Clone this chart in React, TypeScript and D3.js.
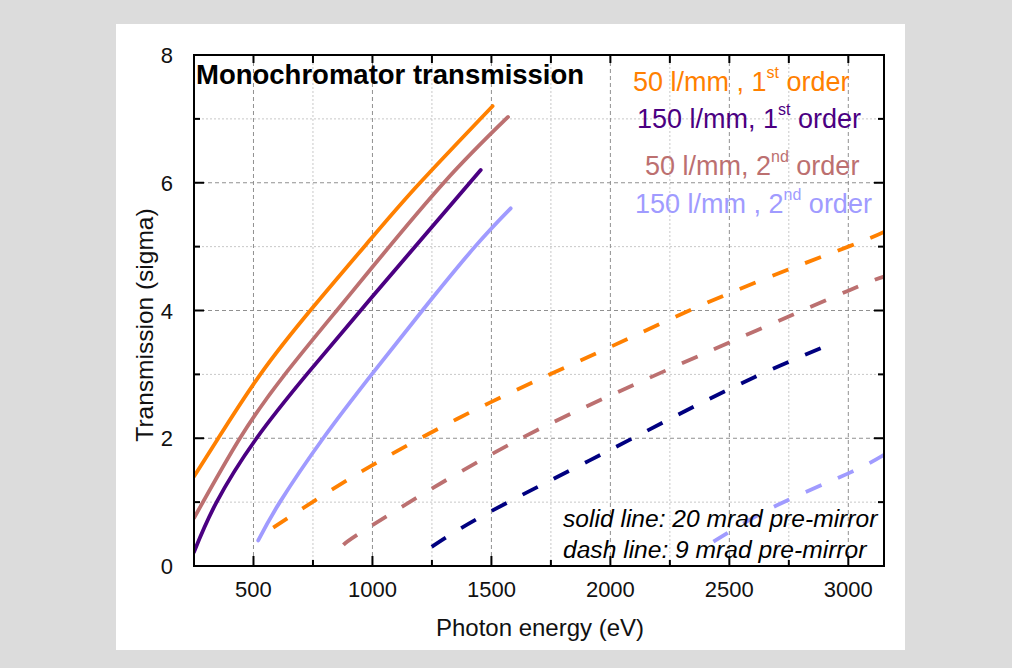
import React from "react";
import * as d3 from "d3";

// Photon energy (eV) vs transmission, 20 mrad pre-mirror (solid)
const solid50First: [number, number][] = [
  [250, 1.4], [352, 2.0], [529, 3.0], [750, 4.05], [1000, 5.15], [1200, 6.0], [1505, 7.2],
];
const solid150First: [number, number][] = [
  [250, 0.22], [345, 1.0], [513, 2.0], [724, 3.0], [1000, 4.22], [1455, 6.2],
];
const solid50Second: [number, number][] = [
  [250, 0.75], [443, 2.0], [632, 3.0], [850, 4.0], [1000, 4.68], [1300, 6.0], [1570, 7.03],
];
const solid150Second: [number, number][] = [
  [520, 0.4], [611, 1.0], [793, 2.0], [997, 3.0], [1214, 4.02], [1431, 5.0], [1581, 5.6],
];

// 9 mrad pre-mirror (dashed)
const dash50First: [number, number][] = [
  [583, 0.6], [1000, 1.58], [1500, 2.57], [2000, 3.43], [2500, 4.27], [3000, 5.0], [3150, 5.23],
];
const dash150First: [number, number][] = [
  [1249, 0.3], [1500, 0.86], [2000, 1.82], [2500, 2.77], [2940, 3.5],
];
const dash50Second: [number, number][] = [
  [878, 0.33], [1000, 0.64], [1500, 1.75], [2000, 2.67], [2500, 3.5], [3000, 4.31], [3150, 4.53],
];
const dash150Second: [number, number][] = [
  [2433, 0.38], [2700, 0.95], [3000, 1.45], [3150, 1.74],
];

const xTicks = [500, 1000, 1500, 2000, 2500, 3000];
const xMinor = [750, 1250, 1750, 2250, 2750];
const yTicks = [0, 2, 4, 6, 8];
const yMinor = [1, 3, 5, 7];

const legendItems = [
  { grating: "50 l/mm , 1", sup: "st", color: "#ff8000" },
  { grating: "150 l/mm, 1", sup: "st", color: "#4b0082" },
  { grating: "50 l/mm, 2", sup: "nd", color: "#bc7070" },
  { grating: "150 l/mm , 2", sup: "nd", color: "#a09bff" },
];
const legendX = [633, 637, 645, 635];
const legendY = [91, 128, 175, 213];

const notes = ["solid line: 20 mrad pre-mirror", "dash line: 9 mrad pre-mirror"];

const W = 1012;
const H = 668;
const plot = { left: 194, right: 884, top: 55, bottom: 566 };
const FONT = "'Liberation Sans', Arial, Helvetica, sans-serif";

export default function App() {
  const x = d3.scaleLinear().domain([250, 3150]).range([plot.left, plot.right]);
  const y = d3.scaleLinear().domain([0, 8]).range([plot.bottom, plot.top]);
  const line = d3
    .line<[number, number]>()
    .x((d) => x(d[0]))
    .y((d) => y(d[1]))
    .curve(d3.curveNatural);

  const series = [
    { data: solid50First, color: "#ff8000", dashed: false },
    { data: solid50Second, color: "#bc7070", dashed: false },
    { data: solid150First, color: "#4b0082", dashed: false },
    { data: solid150Second, color: "#a09bff", dashed: false },
    { data: dash50First, color: "#ff8000", dashed: true },
    { data: dash50Second, color: "#bc7070", dashed: true },
    { data: dash150First, color: "#000080", dashed: true },
    { data: dash150Second, color: "#a09bff", dashed: true },
  ];

  return (
    <svg
      width={W}
      height={H}
      style={{ position: "absolute", left: 0, top: 0 }}
      fontFamily={FONT}
    >
      <rect x={0} y={0} width={W} height={H} fill="#dcdcdc" />
      <rect x={116} y={24} width={789} height={626} fill="#ffffff" />

      <defs>
        <clipPath id="plot-clip">
          <rect
            x={plot.left}
            y={plot.top}
            width={plot.right - plot.left}
            height={plot.bottom - plot.top}
          />
        </clipPath>
      </defs>

      {/* grid */}
      {xMinor.map((v) => (
        <line key={"gxm" + v} x1={x(v)} x2={x(v)} y1={plot.top} y2={plot.bottom}
          stroke="#c8c8c8" strokeWidth={1} strokeDasharray="2,2" />
      ))}
      {yMinor.map((v) => (
        <line key={"gym" + v} x1={plot.left} x2={plot.right} y1={y(v)} y2={y(v)}
          stroke="#c8c8c8" strokeWidth={1} strokeDasharray="2,2" />
      ))}
      {xTicks.map((v) => (
        <line key={"gx" + v} x1={x(v)} x2={x(v)} y1={plot.top} y2={plot.bottom}
          stroke="#909090" strokeWidth={1} strokeDasharray="4,3" />
      ))}
      {yTicks.slice(1, -1).map((v) => (
        <line key={"gy" + v} x1={plot.left} x2={plot.right} y1={y(v)} y2={y(v)}
          stroke="#909090" strokeWidth={1} strokeDasharray="4,3" />
      ))}

      {/* curves */}
      <g clipPath="url(#plot-clip)">
        {series.map((s, i) => (
          <path
            key={i}
            d={line(s.data) ?? ""}
            fill="none"
            stroke={s.color}
            strokeWidth={3.8}
            strokeDasharray={s.dashed ? "17,18" : undefined}
            strokeLinecap={s.dashed ? "butt" : "round"}
          />
        ))}
      </g>

      {/* frame */}
      <rect
        x={plot.left}
        y={plot.top}
        width={plot.right - plot.left}
        height={plot.bottom - plot.top}
        fill="none"
        stroke="#000"
        strokeWidth={2}
      />

      {/* ticks, pointing inward */}
      {xTicks.map((v) => (
        <g key={"tx" + v}>
          <line x1={x(v)} x2={x(v)} y1={plot.bottom} y2={plot.bottom - 10} stroke="#000" strokeWidth={2} />
          <line x1={x(v)} x2={x(v)} y1={plot.top} y2={plot.top + 8} stroke="#000" strokeWidth={2} />
        </g>
      ))}
      {xMinor.map((v) => (
        <g key={"txm" + v}>
          <line x1={x(v)} x2={x(v)} y1={plot.bottom} y2={plot.bottom - 6} stroke="#000" strokeWidth={2} />
          <line x1={x(v)} x2={x(v)} y1={plot.top} y2={plot.top + 8} stroke="#000" strokeWidth={2} />
        </g>
      ))}
      {yTicks.map((v) => (
        <g key={"ty" + v}>
          <line x1={plot.left} x2={plot.left + 10} y1={y(v)} y2={y(v)} stroke="#000" strokeWidth={2} />
          <line x1={plot.right} x2={plot.right - 10} y1={y(v)} y2={y(v)} stroke="#000" strokeWidth={2} />
        </g>
      ))}
      {yMinor.map((v) => (
        <g key={"tym" + v}>
          <line x1={plot.left} x2={plot.left + 6} y1={y(v)} y2={y(v)} stroke="#000" strokeWidth={2} />
          <line x1={plot.right} x2={plot.right - 6} y1={y(v)} y2={y(v)} stroke="#000" strokeWidth={2} />
        </g>
      ))}

      {/* tick labels */}
      {xTicks.map((v) => (
        <text key={"lx" + v} x={x(v)} y={597} textAnchor="middle" fontSize={22} fill="#111">
          {v}
        </text>
      ))}
      {yTicks.map((v) => (
        <text key={"ly" + v} x={173} y={y(v) + 8} textAnchor="end" fontSize={22} fill="#111">
          {v}
        </text>
      ))}

      {/* axis titles */}
      <text x={540} y={636} textAnchor="middle" fontSize={24} fill="#111">
        Photon energy (eV)
      </text>
      <text
        transform={`translate(153,325) rotate(-90)`}
        textAnchor="middle"
        fontSize={24.5}
        fill="#111"
      >
        Transmission (sigma)
      </text>

      {/* title */}
      <text x={196} y={84} fontSize={27.5} fontWeight="bold" fill="#000">
        Monochromator transmission
      </text>

      {/* legend */}
      {legendItems.map((it, i) => (
        <text key={"lg" + i} x={legendX[i]} y={legendY[i]} fontSize={27} fill={it.color}>
          {it.grating}
          <tspan dy={-13} fontSize={16}>{it.sup}</tspan>
          <tspan dy={13}> order</tspan>
        </text>
      ))}

      {/* notes */}
      {notes.map((t, i) => (
        <text key={"nt" + i} x={563} y={527 + i * 30.5} fontSize={24.6} fontStyle="italic" fill="#000">
          {t}
        </text>
      ))}
    </svg>
  );
}
